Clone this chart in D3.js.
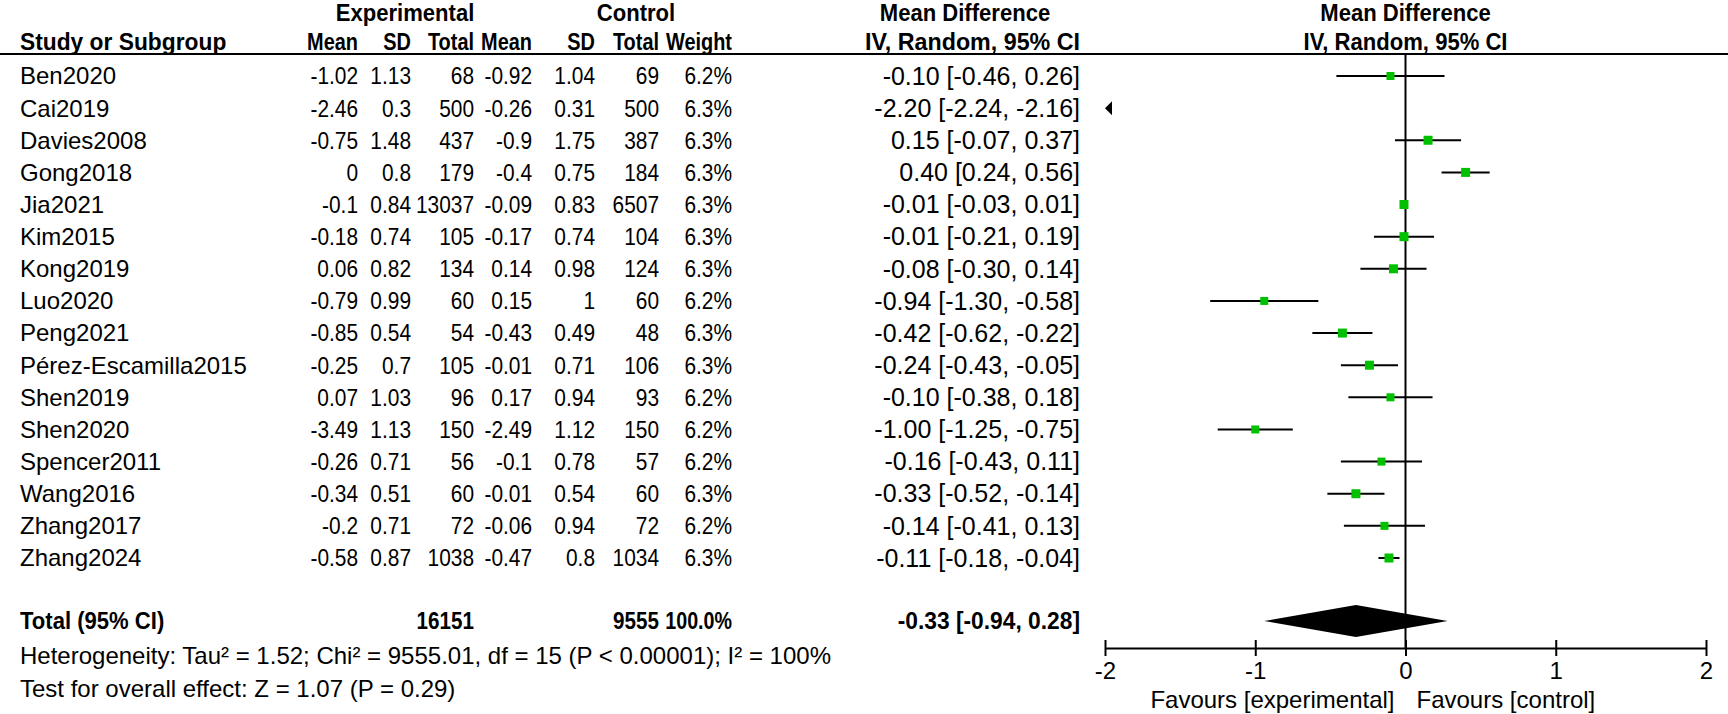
<!DOCTYPE html>
<html>
<head>
<meta charset="utf-8">
<script src="https://cdn.jsdelivr.net/npm/d3@7"></script>
<style>
  body { margin: 0; background: #fff; }
  svg text { font-family: "Liberation Sans", Arial, sans-serif; fill: #000; }
</style>
</head>
<body>
<svg id="chart" width="1728" height="714"></svg>
<script>
//study data
var studies = ["Ben2020", "Cai2019", "Davies2008", "Gong2018", "Jia2021", "Kim2015", "Kong2019", "Luo2020",
    "Peng2021", "Pérez-Escamilla2015", "Shen2019", "Shen2020", "Spencer2011", "Wang2016", "Zhang2017", "Zhang2024"];
var expMean = [-1.02, -2.46, -0.75, 0, -0.1, -0.18, 0.06, -0.79, -0.85, -0.25, 0.07, -3.49, -0.26, -0.34, -0.2, -0.58];
var expSD = [1.13, 0.3, 1.48, 0.8, 0.84, 0.74, 0.82, 0.99, 0.54, 0.7, 1.03, 1.13, 0.71, 0.51, 0.71, 0.87];
var expTotal = [68, 500, 437, 179, 13037, 105, 134, 60, 54, 105, 96, 150, 56, 60, 72, 1038];
var ctlMean = [-0.92, -0.26, -0.9, -0.4, -0.09, -0.17, 0.14, 0.15, -0.43, -0.01, 0.17, -2.49, -0.1, -0.01, -0.06, -0.47];
var ctlSD = [1.04, 0.31, 1.75, 0.75, 0.83, 0.74, 0.98, 1, 0.49, 0.71, 0.94, 1.12, 0.78, 0.54, 0.94, 0.8];
var ctlTotal = [69, 500, 387, 184, 6507, 104, 124, 60, 48, 106, 93, 150, 57, 60, 72, 1034];
var weights = [6.2, 6.3, 6.3, 6.3, 6.3, 6.3, 6.3, 6.2, 6.3, 6.3, 6.2, 6.2, 6.2, 6.3, 6.2, 6.3];
var md = [-0.10, -2.20, 0.15, 0.40, -0.01, -0.01, -0.08, -0.94, -0.42, -0.24, -0.10, -1.00, -0.16, -0.33, -0.14, -0.11];
var ciLow = [-0.46, -2.24, -0.07, 0.24, -0.03, -0.21, -0.30, -1.30, -0.62, -0.43, -0.38, -1.25, -0.43, -0.52, -0.41, -0.18];
var ciHigh = [0.26, -2.16, 0.37, 0.56, 0.01, 0.19, 0.14, -0.58, -0.22, -0.05, 0.18, -0.75, 0.11, -0.14, 0.13, -0.04];

//pooled result and footer text
var total = {exp: 16151, ctl: 9555, weight: 100.0, md: -0.33, low: -0.94, high: 0.28};
var heterogeneity = "Heterogeneity: Tau² = 1.52; Chi² = 9555.01, df = 15 (P < 0.00001); I² = 100%";
var overall = "Test for overall effect: Z = 1.07 (P = 0.29)";
var axisTicks = [-2, -1, 0, 1, 2];
var favours = ["Favours [experimental]", "Favours [control]"];

var svg = d3.select("#chart");

//scales
var x = d3.scaleLinear().domain([-2, 2]).range([1105, 1706]);
var y = d3.scalePoint().domain(studies).range([76, 558]);
var boxSize = d3.scaleLinear().domain([6.2, 6.3]).range([8, 9]);

var yTotal = 621, yHet = 656, yTest = 689, yAxis = 648;

//table columns: right edge of each column
var cols = [
    {x: 358, label: "Mean", vals: expMean},
    {x: 411, label: "SD", vals: expSD},
    {x: 474, label: "Total", vals: expTotal},
    {x: 532, label: "Mean", vals: ctlMean},
    {x: 595, label: "SD", vals: ctlSD},
    {x: 659, label: "Total", vals: ctlTotal},
    {x: 732, label: "Weight", vals: weights.map(function(w) { return w.toFixed(1) + "%"; })}
];
var ciRight = 1080;

//text helper; sx squeezes the glyphs sideways like the narrow table font
function txt(g, xp, yp, s, anchor, bold, size, sx) {
    return g.append("text")
        .attr("transform", "translate(" + xp + "," + yp + ") scale(" + (sx || 1) + ",1)")
        .attr("dy", "0.35em")
        .attr("text-anchor", anchor || "start")
        .style("font-size", (size || 24) + "px")
        .style("font-weight", bold ? "bold" : "normal")
        .text(s);
}

function ciText(m, lo, hi) {
    return m.toFixed(2) + " [" + lo.toFixed(2) + ", " + hi.toFixed(2) + "]";
}

//header
var head = svg.append("g");
txt(head, 405, 13, "Experimental", "middle", true, 24, 0.92);
txt(head, 636, 13, "Control", "middle", true, 24, 0.92);
txt(head, 965, 13, "Mean Difference", "middle", true, 24, 0.92);
txt(head, x(0), 13, "Mean Difference", "middle", true, 24, 0.92);
txt(head, 20, 42, "Study or Subgroup", "start", true, 24, 0.95);
cols.forEach(function(c) { txt(head, c.x, 42, c.label, "end", true, 24, 0.83); });
txt(head, ciRight, 42, "IV, Random, 95% CI", "end", true, 24, 0.97);
txt(head, x(0), 42, "IV, Random, 95% CI", "middle", true, 24, 0.92);

head.append("line")
    .attr("x1", 0).attr("x2", 1728)
    .attr("y1", 54).attr("y2", 54)
    .attr("stroke", "#000").attr("stroke-width", 2);

//study rows
var rows = svg.append("g");
studies.forEach(function(s, i) {
    var yy = y(s);
    txt(rows, 20, yy, s, "start", false, 24);
    cols.forEach(function(c) { txt(rows, c.x, yy, String(c.vals[i]), "end", false, 24, 0.87); });
    txt(rows, ciRight, yy, ciText(md[i], ciLow[i], ciHigh[i]), "end", false, 25);
});

//total row
var tot = svg.append("g");
txt(tot, 20, yTotal, "Total (95% CI)", "start", true, 24, 0.92);
txt(tot, 474, yTotal, String(total.exp), "end", true, 24, 0.86);
txt(tot, 659, yTotal, String(total.ctl), "end", true, 24, 0.86);
txt(tot, 732, yTotal, total.weight.toFixed(1) + "%", "end", true, 24, 0.82);
txt(tot, ciRight, yTotal, ciText(total.md, total.low, total.high), "end", true, 24, 0.95);
txt(tot, 20, yHet, heterogeneity, "start", false, 24);
txt(tot, 20, yTest, overall, "start", false, 24);

//plot: zero line
var plot = svg.append("g");
plot.append("line")
    .attr("x1", x(0)).attr("x2", x(0))
    .attr("y1", 54).attr("y2", yAxis)
    .attr("stroke", "#000").attr("stroke-width", 2);

//confidence intervals, clipped at the axis range
studies.forEach(function(s, i) {
    var yy = y(s);
    if (ciHigh[i] < -2) {
        //interval off the scale: arrow at the left edge
        plot.append("path")
            .attr("d", "M" + x(-2) + "," + yy + "l7,-7v14z")
            .attr("fill", "#000");
        return;
    }
    var lo = Math.max(ciLow[i], -2), hi = Math.min(ciHigh[i], 2);
    plot.append("line")
        .attr("x1", x(lo)).attr("x2", x(hi))
        .attr("y1", yy).attr("y2", yy)
        .attr("stroke", "#000").attr("stroke-width", 2);
    var b = boxSize(weights[i]);
    plot.append("rect")
        .attr("x", x(md[i]) - b / 2).attr("y", yy - b / 2)
        .attr("width", b).attr("height", b)
        .attr("fill", "#00c000");
});

//pooled diamond
plot.append("path")
    .attr("d", "M" + x(total.low) + "," + yTotal +
        "L" + x(total.md) + "," + (yTotal - 16) +
        "L" + x(total.high) + "," + yTotal +
        "L" + x(total.md) + "," + (yTotal + 16) + "Z")
    .attr("fill", "#000");

//axis
var axis = plot.append("g")
    .attr("transform", "translate(0," + yAxis + ")")
    .call(d3.axisBottom(x).tickValues(axisTicks).tickSize(8).tickSizeOuter(0).tickPadding(6)
        .tickFormat(function(d) { return String(d); }));
axis.select(".domain").attr("stroke-width", 2);
axis.selectAll(".tick line").attr("y1", -8).attr("stroke-width", 2);
axis.selectAll(".tick text")
    .style("font-size", "24px")
    .style("font-family", "Liberation Sans, Arial, sans-serif")
    .attr("fill", "#000");

txt(plot, x(0) - 11, 700, favours[0], "end", false, 24);
txt(plot, x(0) + 11, 700, favours[1], "start", false, 24);
</script>
</body>
</html>
